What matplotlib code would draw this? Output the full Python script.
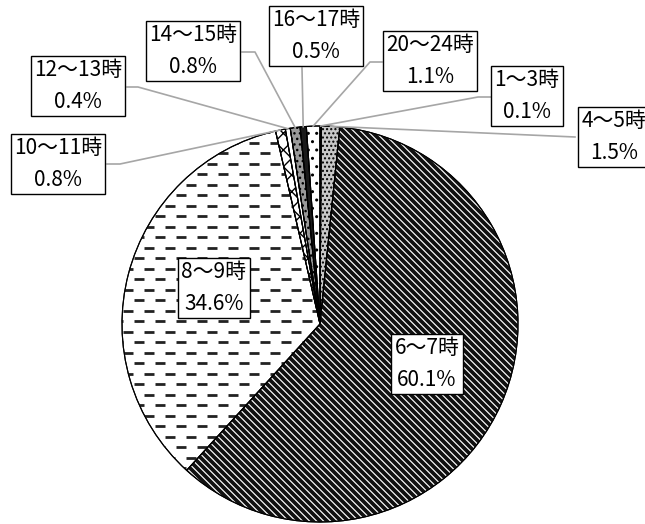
import numpy as np
import matplotlib.pyplot as plt
from matplotlib.collections import LineCollection

plt.rcParams['font.family'] = ['Noto Sans CJK JP', 'DejaVu Sans']

# 時間帯別の割合 (%)
labels = ['1～3時', '4～5時', '6～7時', '8～9時', '10～11時',
          '12～13時', '14～15時', '16～17時', '20～24時']
shares = [0.1, 1.5, 60.1, 34.6, 0.8, 0.4, 0.8, 0.5, 1.1]

faces = ['white', '#c8c8c8', 'white', 'white', 'white',
         'white', '#9a9a9a', '#1a1a1a', 'white']
hatches = ['', '....', '', '', 'xx', '', '...', '', '..']

W, H = 645, 524
CX, CY, R = 320, 324, 198  # 円の中心と半径 (ピクセル)


def px(x, y):
    "ピクセル座標 -> データ座標"
    return ((x - CX) / R, (CY - y) / R)


# ラベルの中心と引き出し線の折れ点 (ピクセル)
label_pos = [(527, 96), (614, 137), (427, 364), (214, 288), (58, 164),
             (78, 86), (193, 51), (316, 36), (430, 61)]
leaders = [[(491, 97), (478, 97)], [(575, 137)], None, None,
           [(107, 164), (120, 164)], [(127, 87), (138, 87)],
           [(242, 52), (255, 52)], [(302, 68)], [(382, 62), (370, 62)]]

fig = plt.figure(figsize=(W / 100, H / 100), dpi=100)
ax = fig.add_axes([0, 0, 1, 1])

wedges, _ = ax.pie(shares, startangle=90, counterclock=False, colors=faces,
                   wedgeprops=dict(edgecolor='black', linewidth=0.8))
for w, h in zip(wedges, hatches):
    w.set_hatch(h)

s = 1 / R
# 6～7時: 斜線
c = np.arange(-4, 4, 7 * s)
stripes = LineCollection([[(-2, 2 + ci), (2, -2 + ci)] for ci in c],
                         colors='#111111', linewidths=2.7, zorder=1)
stripes.set_clip_path(wedges[2])
ax.add_collection(stripes)

# 8～9時: 横破線
segs = []
for i, y in enumerate(np.arange(-2, 2, 10.5 * s)):
    off = (i % 2) * 10.5 * s
    for x in np.arange(-2, 2, 21 * s) + off:
        segs.append([(x, y), (x + 10 * s, y)])
dashes = LineCollection(segs, colors='#222222', linewidths=2.0, zorder=1,
                        capstyle='butt')
dashes.set_clip_path(wedges[3])
ax.add_collection(dashes)

# 輪郭線を上から描き直す
outline, _ = ax.pie(shares, startangle=90, counterclock=False,
                    wedgeprops=dict(fill=False, edgecolor='black', linewidth=0.8))

# 引き出し線とラベル
for w, lab, v, pos, ld in zip(wedges, labels, shares, label_pos, leaders):
    if ld is not None:
        mid = np.deg2rad((w.theta1 + w.theta2) / 2)
        pts = [px(*p) for p in ld] + [(np.cos(mid), np.sin(mid))]
        xs, ys = zip(*pts)
        ax.plot(xs, ys, color='#a6a6a6', lw=1.2, zorder=4)
    tx, ty = px(*pos)
    ax.text(tx, ty, f'{lab}\n{v:.1f}%', ha='center', va='center',
            fontsize=15, linespacing=1.55, zorder=5,
            bbox=dict(boxstyle='square,pad=0.15', fc='white', ec='black', lw=1))

ax.set_xlim(-CX / R, (W - CX) / R)
ax.set_ylim(-(H - CY) / R, CY / R)
ax.set_aspect('equal')
ax.axis('off')

plt.savefig('out.png', dpi=100)
